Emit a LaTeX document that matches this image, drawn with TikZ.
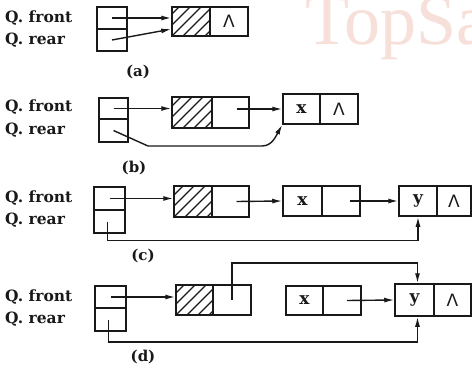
\documentclass[tikz,border=0pt]{standalone}
\usepackage{fontspec}
\setmainfont{DejaVu Serif}
\newfontfamily\wmfont{Liberation Serif}
\newfontfamily\nilfont{DejaVu Sans}
\usetikzlibrary{arrows.meta,calc}
\definecolor{ink}{RGB}{25,25,25}
\definecolor{wm}{RGB}{246,224,217}
\newcommand{\hatchbox}[1]{%
  \begin{scope}
    \clip (#1.south west) rectangle (#1.north east);
    \foreach \k in {-4,...,4} {\draw[hatchline] ($(#1.south west)+(\k*11,0)$) -- ++(45,-45);}
  \end{scope}}
\begin{document}
\begin{tikzpicture}[x=1pt,y=-1pt,
  cell/.style={draw=ink, line width=1.5pt, inner sep=0pt, text=ink,
    font=\fontsize{17}{17}\selectfont\bfseries},
  nil/.style={cell, font=\nilfont\fontsize{17}{17}\selectfont},
  hatchline/.style={draw=ink, line width=1.1pt},
  ptr/.style={draw=ink, line width=1.4pt, -{Latex[length=10pt,width=5pt]}},
  lbl/.style={text=ink, inner sep=0pt, font=\fontsize{15.5}{16}\selectfont\bfseries},
  sublbl/.style={text=ink, inner sep=0pt, font=\fontsize{15}{15}\selectfont\bfseries}]
\useasboundingbox (0,0) rectangle (472,372);
\clip (0,0) rectangle (472,372);
\fill[white] (0,0) rectangle (472,372);
% watermark
\node[anchor=base west, inner sep=0pt, text=wm, font=\wmfont\fontsize{72}{72}\selectfont] (wmk) at (305,45) {TopSa};

% ---------- (a)
\node[lbl, anchor=west] (qfa) at (5,18) {Q. front};
\node[lbl, anchor=west] (qra) at (5,40) {Q. rear};
\node[cell, minimum width=30, minimum height=22] (pa1) at (112,18) {};
\node[cell, minimum width=30, minimum height=22] (pa2) at (112,40) {};
\node[cell, minimum width=38, minimum height=29] (nad) at (191,21.5) {};
\node[nil, minimum width=38, minimum height=29] (nan) at (229,21.5) {Λ};
\hatchbox{nad}
\draw[ptr] (pa1.center) -- (pa1.center -| nad.west);
\draw[ptr] (pa2.center) -- ($(nad.south west)!0.25!(nad.north west)$);
\node[sublbl] (ca) at (138,72) {(a)};

% ---------- (b)
\node[lbl, anchor=west] (qfb) at (5,107) {Q. front};
\node[lbl, anchor=west] (qrb) at (5,130) {Q. rear};
\node[cell, minimum width=29, minimum height=21] (pb1) at (113.5,108.5) {};
\node[cell, minimum width=29, minimum height=23] (pb2) at (113.5,130.5) {};
\node[cell, minimum width=40, minimum height=31] (nb1d) at (192,112.5) {};
\node[cell, minimum width=37, minimum height=31] (nb1n) at (230.5,112.5) {};
\node[cell, minimum width=37, minimum height=30] (nb2d) at (301.5,109) {x};
\node[nil, minimum width=38, minimum height=30] (nb2n) at (339,109) {Λ};
\hatchbox{nb1d}
\draw[ptr] (pb1.center) -- (pb1.center -| nb1d.west);
\draw[ptr] ([xshift=6pt]nb1n.center |- nb2d.west) -- (nb2d.west);
\draw[ptr] (pb2.center) -- (148,146) -- (262,146) .. controls (272,146) and (276,136) .. (nb2d.south west);
\node[sublbl] (cb) at (134,168) {(b)};

% ---------- (c)
\node[lbl, anchor=west] (qfc) at (5,198) {Q. front};
\node[lbl, anchor=west] (qrc) at (5,220) {Q. rear};
\node[cell, minimum width=31, minimum height=23] (pc1) at (109.5,198.5) {};
\node[cell, minimum width=31, minimum height=23] (pc2) at (109.5,221.5) {};
\node[cell, minimum width=38, minimum height=31] (nc1d) at (193,201.5) {};
\node[cell, minimum width=37, minimum height=31] (nc1n) at (230.5,201.5) {};
\node[cell, minimum width=39, minimum height=30] (nc2d) at (302.5,201) {x};
\node[cell, minimum width=38, minimum height=30] (nc2n) at (341,201) {};
\node[cell, minimum width=38, minimum height=30] (nc3d) at (418,201) {y};
\node[nil, minimum width=34, minimum height=30] (nc3n) at (454,201) {Λ};
\hatchbox{nc1d}
\draw[ptr] (pc1.center) -- (pc1.center -| nc1d.west);
\draw[ptr] ([xshift=6pt]nc1n.center) -- (nc2d.west);
\draw[ptr] ([xshift=9pt]nc2n.center) -- (nc3d.west);
\draw[ptr] ([xshift=-2pt]pc2.center) -- ++(0,19) -| (nc3d.south);
\node[sublbl] (cc) at (143,256) {(c)};

% ---------- (d)
\node[lbl, anchor=west] (qfd) at (5,297) {Q. front};
\node[lbl, anchor=west] (qrd) at (5,319) {Q. rear};
\node[cell, minimum width=31, minimum height=22] (pd1) at (110.5,297) {};
\node[cell, minimum width=31, minimum height=23] (pd2) at (110.5,319.5) {};
\node[cell, minimum width=37, minimum height=30] (nd1d) at (194.5,300) {};
\node[cell, minimum width=38, minimum height=30] (nd1n) at (232,300) {};
\node[cell, minimum width=37, minimum height=29] (nd2d) at (304.5,300.5) {x};
\node[cell, minimum width=38, minimum height=29] (nd2n) at (342,300.5) {};
\node[cell, minimum width=39, minimum height=32] (nd3d) at (414.5,300) {y};
\node[nil, minimum width=37, minimum height=32] (nd3n) at (452.5,300) {Λ};
\hatchbox{nd1d}
\draw[ptr] (pd1.center) -- (pd1.center -| nd1d.west);
\draw[ptr] ([xshift=5pt]nd2n.center) -- (nd3d.west);
\draw[ptr] (nd1n.center) -- ++(0,-37) -| ([xshift=3pt]nd3d.north);
\draw[ptr] ([xshift=-2pt]pd2.center) -- ++(0,22.5) -| ([xshift=3pt]nd3d.south);
\node[sublbl] (cd) at (143,357) {(d)};
\end{tikzpicture}
\end{document}
